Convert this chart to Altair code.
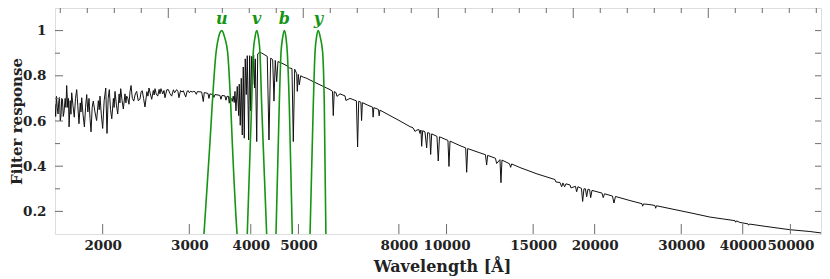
import altair as alt
import pandas as pd

# ---------------- data ----------------
spec_wl = [
    1600, 1605, 1611, 1617, 1623, 1629, 1634, 1640, 1646, 1651, 1657, 1663, 1669, 1678, 1684, 1690,
    1698, 1704, 1709, 1718, 1724, 1730, 1740, 1751, 1761, 1771, 1780, 1790, 1801, 1807, 1813, 1824,
    1836, 1846, 1856, 1866, 1876, 1885, 1894, 1904, 1914, 1929, 1944, 1960, 1968, 1975, 1987, 2000,
    2014, 2029, 2041, 2052, 2063, 2075, 2087, 2103, 2110, 2119, 2133, 2146, 2160, 2168, 2176, 2190,
    2203, 2220, 2230, 2238, 2250, 2262, 2273, 2284, 2298, 2313, 2330, 2345, 2362, 2381, 2395, 2407,
    2422, 2438, 2460, 2472, 2484, 2500, 2516, 2535, 2545, 2555, 2570, 2588, 2605, 2615, 2627, 2650,
    2665, 2677, 2700, 2719, 2740, 2762, 2785, 2800, 2827, 2845, 2858, 2880, 2900, 2917, 2950, 2970,
    2986, 3000, 3020, 3040, 3056, 3080, 3100, 3115, 3154, 3179, 3203, 3218,
    3243, 3274, 3289, 3304, 3351, 3366, 3383, 3431, 3463, 3479, 3496, 3545, 3562, 3578, 3604, 3617,
    3629, 3658, 3668, 3685, 3702, 3715, 3732, 3755, 3780, 3790, 3808, 3826, 3844, 3862, 3880, 3898,
    3917, 3935, 3961, 3979, 3998, 4017, 4036, 4054, 4073, 4086, 4113, 4132, 4163, 4209, 4275, 4321,
    4356, 4390, 4432, 4459, 4486, 4516, 4543, 4623, 4695, 4746, 4790, 4851, 4881, 4913, 4959, 4973,
    4996, 5020, 5053, 5114, 5196, 5361, 5530, 5705, 5796,
    5863, 5885, 5912, 5960, 5988, 6074, 6217, 6244, 6365, 6558, 6595, 6629, 6697, 6719, 6745, 6919,
    7073, 7092, 7116, 7274, 7295, 7322, 7674, 8044, 8428, 8547, 8627, 8708, 8790, 8831, 8872, 8901,
    8943, 9040, 9112, 9155, 9241, 9284, 9328, 9562, 9620, 9675, 10067, 10115, 10164, 10650, 10937,
    10988, 11040, 11693, 11997, 12065, 12121, 12572, 12643, 12841, 12901, 12962, 13425, 13500, 13564,
    14100, 15269, 16610, 16688, 17003, 17139, 17243, 17380, 17488, 17819, 17903, 18283, 18386, 18498,
    18804, 18909, 19025, 19159, 19267, 19384, 19538, 19634, 19754, 20699, 20824, 20943, 21741, 21894,
    22049, 23599, 24960, 25043, 25137, 25913, 26526, 26613, 26713, 31256, 34307, 38575, 38702, 38847,
    39488, 40991, 41124, 41280, 44384, 49888, 54768, 60000,
]
spec_val = [
    0.674, 0.62, 0.709, 0.66, 0.631, 0.69, 0.704, 0.60, 0.627, 0.70, 0.696, 0.62, 0.640, 0.70, 0.66, 0.757,
    0.66, 0.70, 0.574, 0.69, 0.63, 0.725, 0.67, 0.617, 0.70, 0.739, 0.67, 0.588, 0.68, 0.64, 0.703, 0.63,
    0.574, 0.66, 0.717, 0.64, 0.70, 0.61, 0.552, 0.66, 0.688, 0.64, 0.602, 0.69, 0.65, 0.710, 0.63, 0.567,
    0.69, 0.746, 0.545, 0.70, 0.739, 0.65, 0.610, 0.70, 0.66, 0.731, 0.67, 0.631, 0.72, 0.68, 0.743, 0.69,
    0.653, 0.72, 0.68, 0.710, 0.70, 0.674, 0.73, 0.757, 0.70, 0.688, 0.72, 0.731, 0.69, 0.696, 0.73, 0.734,
    0.70, 0.662, 0.73, 0.71, 0.746, 0.72, 0.696, 0.735, 0.715, 0.743, 0.72, 0.710, 0.74, 0.72, 0.743, 0.72,
    0.735, 0.703, 0.738, 0.739, 0.722, 0.710, 0.738, 0.725, 0.739, 0.73, 0.703, 0.735, 0.728, 0.734, 0.706, 0.732,
    0.734, 0.725, 0.732, 0.728, 0.731, 0.73, 0.718, 0.73, 0.729, 0.728, 0.686, 0.726,
    0.724, 0.722, 0.700, 0.720, 0.717, 0.704, 0.717, 0.715, 0.713, 0.696, 0.713, 0.711, 0.692, 0.709, 0.709, 0.679,
    0.707, 0.696, 0.687, 0.710, 0.682, 0.731, 0.645, 0.753, 0.624, 0.763, 0.581, 0.789, 0.538, 0.839, 0.524, 0.875,
    0.717, 0.889, 0.516, 0.889, 0.645, 0.886, 0.760, 0.892, 0.746, 0.875, 0.509, 0.897, 0.903, 0.901, 0.892, 0.886,
    0.516, 0.878, 0.872, 0.688, 0.868, 0.774, 0.863, 0.856, 0.849, 0.843, 0.835, 0.832, 0.509, 0.829, 0.810, 0.731,
    0.806, 0.760, 0.800, 0.794, 0.789, 0.774, 0.760, 0.746, 0.739,
    0.732, 0.624, 0.730, 0.726, 0.709, 0.720, 0.711, 0.691, 0.700, 0.689, 0.485, 0.687, 0.683, 0.602, 0.681, 0.670,
    0.661, 0.617, 0.659, 0.651, 0.623, 0.648, 0.624, 0.600, 0.575, 0.570, 0.554, 0.560, 0.562, 0.545, 0.560, 0.488,
    0.557, 0.552, 0.481, 0.549, 0.545, 0.452, 0.543, 0.532, 0.423, 0.530, 0.514, 0.399, 0.511, 0.491, 0.481,
    0.373, 0.478, 0.459, 0.451, 0.405, 0.448, 0.435, 0.412, 0.429, 0.327, 0.427, 0.411, 0.395, 0.410,
    0.394, 0.366, 0.341, 0.330, 0.328, 0.309, 0.326, 0.309, 0.322, 0.317, 0.304, 0.311, 0.287, 0.309,
    0.302, 0.244, 0.300, 0.300, 0.265, 0.298, 0.296, 0.261, 0.293, 0.281, 0.261, 0.278, 0.268, 0.237,
    0.266, 0.248, 0.234, 0.223, 0.233, 0.230, 0.226, 0.214, 0.225, 0.194, 0.175, 0.159, 0.152, 0.158,
    0.151, 0.145, 0.139, 0.144, 0.134, 0.119, 0.111, 0.100,
]

u_wl = [3190, 3213, 3304, 3340, 3400, 3440, 3493, 3540, 3590, 3641, 3669, 3751, 3780]
u_val = [0.0, 0.1, 0.502, 0.674, 0.903, 0.97, 1.0, 0.97, 0.903, 0.674, 0.502, 0.1, 0.0]
v_wl = [3920, 3935, 4016, 4047, 4080, 4112, 4146, 4176, 4209, 4309, 4325]
v_val = [0.0, 0.1, 0.674, 0.903, 0.97, 1.0, 0.97, 0.903, 0.674, 0.1, 0.0]
b_wl = [4486, 4501, 4571, 4608, 4645, 4680, 4716, 4746, 4790, 4858, 4873]
b_val = [0.0, 0.1, 0.674, 0.903, 0.97, 1.0, 0.97, 0.903, 0.674, 0.1, 0.0]
y_wl = [5262, 5279, 5360, 5403, 5441, 5487, 5539, 5600, 5643, 5686, 5705]
y_val = [0.0, 0.1, 0.674, 0.903, 0.97, 1.0, 0.97, 0.903, 0.674, 0.1, 0.0]

filter_names = ["u", "v", "b", "y"]
filter_peak_wl = [3493, 4112, 4680, 5487]
filter_label_level = [1.03, 1.03, 1.03, 1.03]

x_tick_values = [2000, 3000, 4000, 5000, 8000, 10000, 15000, 20000, 30000, 40000, 50000]
y_major_ticks = [0.2, 0.4, 0.6, 0.8, 1.0]
y_minor_ticks = [0.3, 0.5, 0.7, 0.9]
y_right_ticks = [0.2, 0.3, 0.4, 0.5, 0.6, 0.7, 0.8, 0.9, 1.0]
top_major_ticks = [2719, 5114, 9621, 18096, 34046]
top_minor_ticks = [1640, 1861, 2112, 2396, 3085, 3501, 3972, 4507, 5803, 6585, 7472, 8479,
                   10917, 12388, 14057, 15951, 20534, 23301, 26440, 30002, 38632, 43837, 49744, 56446]

# ---------------- chart ----------------
W, H = 766, 226
X_DOMAIN = [1600, 57700]
GREEN = "#149614"
TICK = "#6e6e6e"
FONT = "DejaVu Serif"
TXT = "#222"

xscale = alt.Scale(type="log", domain=X_DOMAIN, nice=False)
yscale = alt.Scale(domain=[0.1, 1.1], nice=False, zero=False)

spec_df = pd.DataFrame({"wl": spec_wl, "val": spec_val})
filt_df = pd.concat([
    pd.DataFrame({"f": n, "wl": w, "val": v})
    for n, w, v in zip(filter_names, [u_wl, v_wl, b_wl, y_wl], [u_val, v_val, b_val, y_val])
])
lab_df = pd.DataFrame({"f": filter_names, "wl": filter_peak_wl, "val": filter_label_level})

x_axis = alt.Axis(values=x_tick_values, format="d", ticks=False, domain=False, grid=False,
                  labelOverlap=False, labelFlush=False, labelPadding=4,
                  labelFont=FONT, labelFontSize=13.5, labelFontWeight="bold", labelColor=TXT,
                  title="Wavelength [Å]", titleFont=FONT, titleFontSize=16, titleFontWeight="bold",
                  titleColor=TXT, titleX=387, titleY=37, titleAlign="center",
                  titleBaseline="alphabetic")
y_axis = alt.Axis(values=y_major_ticks, format="~g", ticks=False, domain=False, grid=False,
                  labelPadding=9, labelFont=FONT, labelFontSize=13.5, labelFontWeight="bold",
                  labelColor=TXT, title="Filter response", titleFont=FONT, titleFontSize=15,
                  titleFontWeight="bold", titleColor=TXT, titleX=-39, titleY=H / 2,
                  titleAngle=-90, titleAlign="center", titleBaseline="middle")


def X(field):
    return alt.X(field, scale=xscale, axis=x_axis)


def Y(field):
    return alt.Y(field, scale=yscale, axis=y_axis)


spectrum = alt.Chart(spec_df).mark_line(color="#111", strokeWidth=1.0, clip=True).encode(
    x=X("wl:Q"), y=Y("val:Q"),
)

filters = alt.Chart(filt_df).mark_line(color=GREEN, strokeWidth=1.6, clip=True,
                                        interpolate="monotone").encode(
    x=X("wl:Q"), y=Y("val:Q"), detail="f:N",
)

labels = alt.Chart(lab_df).mark_text(color=GREEN, font=FONT, fontSize=16, fontWeight="bold",
                                     fontStyle="italic", baseline="alphabetic", align="center").encode(
    x=X("wl:Q"), y=Y("val:Q"), text="f:N",
)


def xticks(values, y0, y1):
    return alt.Chart(pd.DataFrame({"t": values})).mark_rule(color=TICK, strokeWidth=1).encode(
        x=X("t:Q"), y=alt.value(y0), y2=alt.value(y1))


def yticks(values, x0, x1):
    return alt.Chart(pd.DataFrame({"t": values})).mark_rule(color=TICK, strokeWidth=1).encode(
        y=Y("t:Q"), x=alt.value(x0), x2=alt.value(x1))


ticks = [
    xticks(x_tick_values, H, H - 10),
    xticks(top_major_ticks, 0, 10),
    xticks(top_minor_ticks, 0, 5),
    yticks(y_major_ticks, 0, 8),
    yticks(y_minor_ticks, 0, 5),
    yticks(y_right_ticks, W, W - 6),
]

chart = alt.layer(spectrum, filters, labels, *ticks).properties(
    width=W, height=H,
    padding={"left": 47, "top": 0, "right": 1, "bottom": 45},
    autosize=alt.AutoSizeParams(type="none"),
).configure_view(stroke="#7a7a7a", strokeWidth=1.2).configure(background="white")

chart.save("out.html", embed_options={"renderer": "svg", "actions": False})
